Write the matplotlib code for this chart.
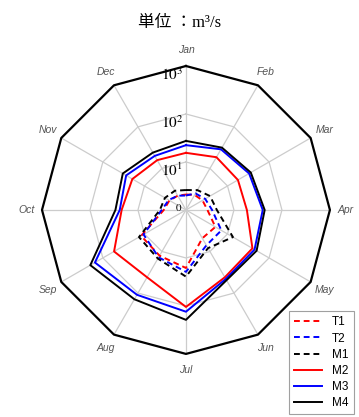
import numpy as np
import matplotlib
matplotlib.use("Agg")
import matplotlib.pyplot as plt

plt.rcParams['mathtext.fontset'] = 'stix'

# monthly flows, m3/s
months = ['Jan', 'Feb', 'Mar', 'Apr', 'May', 'Jun',
          'Jul', 'Aug', 'Sep', 'Oct', 'Nov', 'Dec']
T1 = [2.1, 2.3, 2.5, 2.8, 5.1, 4.8, 16.2, 12.6, 12.0, 2.9, 2.5, 2.2]
T2 = [2.0, 2.5, 2.9, 3.5, 7.1, 7.1, 19.5, 13.8, 10.5, 3.2, 2.6, 2.2]
M1 = [2.6, 3.0, 3.8, 4.4, 13.5, 8.3, 24.5, 14.8, 13.5, 3.5, 3.2, 2.9]
M2 = [15.5, 18.6, 17.8, 18.6, 39.8, 41.7, 105, 41.7, 53.7, 21.9, 19.5, 15.8]
M3 = [22.4, 28.8, 33.1, 39.8, 44.7, 45.7, 132, 110, 155, 24.0, 27.5, 20.0]
M4 = [27.5, 31.6, 36.3, 43.7, 50.1, 49.0, 195, 141, 200, 29.5, 33.1, 24.0]

series = [('T1', T1, 'red', '--'), ('T2', T2, 'blue', '--'), ('M1', M1, 'black', '--'),
          ('M2', M2, 'red', '-'), ('M3', M3, 'blue', '-'), ('M4', M4, 'black', '-')]

theta = np.linspace(0, 2 * np.pi, len(months), endpoint=False)
tc = np.append(theta, theta[0])

fig = plt.figure(figsize=(3.59, 4.17), dpi=100)
ax = fig.add_axes([0.117, 0.151, 0.802, 0.691], projection='polar')
ax.set_theta_offset(np.pi / 2)
ax.set_theta_direction(-1)
ax.set_ylim(0, 3)
ax.grid(False)
ax.spines['polar'].set_visible(False)
ax.set_xticks([])
ax.set_yticks([])
ax.patch.set_alpha(0)

# polygon grid
for k in [1, 2]:
    ax.plot(tc, np.full(len(tc), k), color='#cccccc', lw=0.9, zorder=1)
for t in theta:
    ax.plot([t, t], [0, 3], color='#cccccc', lw=0.9, zorder=1)
ax.plot(tc, np.full(len(tc), 3), color='black', lw=1.6, zorder=2, clip_on=False)

# decade labels
for k in [1, 2, 3]:
    ax.annotate(r'$10^{%d}$' % k, xy=(0, k), xytext=(-2, 0), textcoords='offset points',
                ha='right', va='top', fontsize=11, zorder=3)
ax.annotate(r'$0$', xy=(0, 0), xytext=(-3, 2), textcoords='offset points',
            ha='right', va='center', fontsize=8, zorder=3)

for name, vals, col, ls in series:
    r = np.log10(vals)
    ax.plot(tc, np.append(r, r[0]), color=col, ls=ls, lw=1.4,
            dashes=(3, 2) if ls == '--' else (None, None), label=name, zorder=4)

for t, m in zip(theta, months):
    ax.text(t, 3.33, m, ha='center', va='center', fontsize=7.5, style='italic',
            color='#555555', family='Liberation Sans')

fig.text(0.5, 0.945, '単位 ：m³/s', ha='center', va='center', fontsize=12,
         family=['Liberation Serif', 'Noto Sans CJK JP'])

leg = fig.legend(loc='lower right', bbox_to_anchor=(0.99, 0.002), borderaxespad=0.15,
                 frameon=True, fancybox=False, edgecolor='#888888', handlelength=2.4,
                 labelspacing=0.35, borderpad=0.45, handletextpad=0.8,
                 prop={'family': 'Liberation Sans', 'size': 8.5})
leg.get_frame().set_linewidth(0.8)

fig.savefig('out.png', dpi=100)
